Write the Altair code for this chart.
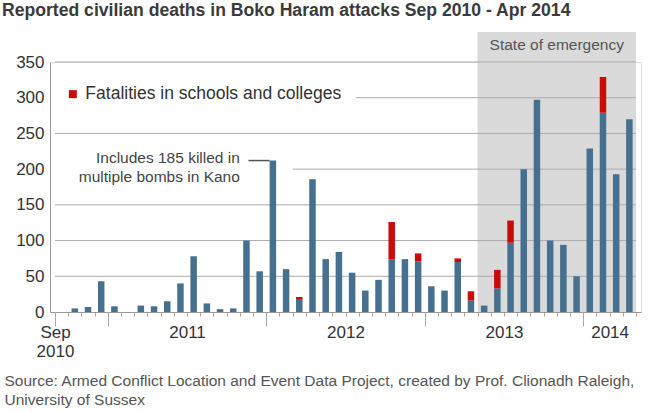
import altair as alt
import pandas as pd

# ---- data ----
months = [str(p) for p in pd.period_range("2010-09", "2014-04", freq="M")]  # 44 months
blue = [0, 5, 7, 43, 8, 0, 9, 8, 15, 40, 78, 12, 4, 5, 100, 57, 212, 60, 17, 186,
        74, 84, 55, 30, 45, 74, 74, 71, 36, 30, 70, 16, 9, 33, 97, 200, 297, 100,
        94, 50, 229, 279, 193, 270]
red = [0, 0, 0, 0, 0, 0, 0, 0, 0, 0, 0, 0, 0, 0, 0, 0, 0, 0, 4, 0,
       0, 0, 0, 0, 0, 52, 0, 11, 0, 0, 5, 13, 0, 26, 31, 0, 0, 0,
       0, 0, 0, 50, 0, 0]
y_ticks = [0, 50, 100, 150, 200, 250, 300, 350]
grid_values = [50, 100, 150, 200, 250, 300, 350]
year_bounds = [0, 4, 16, 28, 40]
label_pos = [0, 10, 22, 34, 42]
label_text = ["Sep\n2010", "2011", "2012", "2013", "2014"]
emergency = {"start": 32, "end": 44, "top": 392, "label": "State of emergency", "label_y": 374}
legend_label = "Fatalities in schools and colleges"
annotation = {"text": "Includes 185 killed in\nmultiple bombs in Kano", "x": 14.0, "y": 215,
              "line_x": 14.65, "line_x2": 16.26, "line_y": 212}
title_text = "Reported civilian deaths in Boko Haram attacks Sep 2010 - Apr 2014"
source_text = ["Source: Armed Conflict Location and Event Data Project, created by Prof. Clionadh Raleigh,",
               "University of Sussex"]

BLUE = "#46708f"
RED = "#cc0a0a"
FONT = "Liberation Sans"
N = len(months)

df = pd.DataFrame({"idx": range(N), "month": months, "blue": blue, "red": red})
df["mid"] = df["idx"] + 0.5
df["total"] = df["blue"] + df["red"]

xs = alt.Scale(domain=[0, N], nice=False, zero=False)
ys = alt.Scale(domain=[0, 350], nice=False)

W, H = 591, 250

# label expression
expr_parts = []
for p, t in zip(label_pos, label_text):
    lines = t.split("\n")
    if len(lines) > 1:
        arr = "[" + ",".join("'%s'" % l for l in lines) + "]"
    else:
        arr = "'%s'" % t
    expr_parts.append("datum.value == %s ? %s : " % (p, arr))
label_expr = "".join(expr_parts) + "''"

axis_months = alt.Axis(values=list(range(N + 1)), orient="bottom", labels=False, tickSize=4,
                       tickColor="#b3a594", domain=True, domainColor="#999999", grid=False,
                       title=None)
axis_years = alt.Axis(values=year_bounds, orient="bottom", labels=False, tickSize=14,
                      tickColor="#aaaaaa", domain=False, grid=False, title=None)
axis_labels = alt.Axis(values=label_pos, orient="bottom", ticks=False, domain=False, grid=False,
                       labelExpr=label_expr, labelFontSize=17, labelColor="#333333",
                       labelFont=FONT, labelPadding=12, labelBaseline="top", labelLineHeight=19,
                       labelAlign="center", labelFlush=False, labelOverlap=False,
                       title=source_text, titleAnchor="start", titleAlign="left",
                       titleBaseline="top", titleX=-46, titleY=61, titleFontSize=15.5,
                       titleFontWeight="normal", titleColor="#555555", titleFont=FONT,
                       titleLineHeight=19)
y_axis = alt.Axis(values=y_ticks, grid=False, ticks=False, domainColor="#999999",
                  labelFontSize=17, labelColor="#333333", labelFont=FONT, labelPadding=6,
                  title=None)


def Y(field):
    return alt.Y(field, scale=ys, axis=y_axis)


# shading
shade_df = pd.DataFrame([{"x0": emergency["start"], "x1": emergency["end"], "y0": 0,
                          "y1": emergency["top"]}])
shade = alt.Chart(shade_df).mark_rect(color="#dadada").encode(
    x=alt.X("x0:Q", scale=xs, axis=axis_months), x2="x1",
    y=Y("y0:Q"), y2="y1")

# gridlines
grid_df = pd.DataFrame({"v": grid_values, "x0": 0, "x1": N})
grid = alt.Chart(grid_df).mark_rule(color="#ababab", strokeWidth=1).encode(
    x=alt.X("x0:Q", scale=xs, axis=axis_years), x2="x1",
    y=Y("v:Q"))

# white masks behind the legend and annotation text
mask_df = pd.DataFrame([{"x0": 0, "x1": 22.8, "y0": 285, "y1": 322},
                        {"x0": 0, "x1": 18.0, "y0": 188, "y1": 238}])
masks = alt.Chart(mask_df).mark_rect(color="white").encode(
    x=alt.X("x0:Q", scale=xs, axis=None), x2="x1",
    y=Y("y0:Q"), y2="y1")

bars_blue = alt.Chart(df).mark_bar(color=BLUE, size=6.5).encode(
    x=alt.X("mid:Q", scale=xs, axis=axis_labels),
    y=Y("blue:Q"),
    tooltip=["month", "blue", "red"])

bars_red = alt.Chart(df).transform_filter("datum.red > 0").mark_bar(color=RED, size=6.5).encode(
    x=alt.X("mid:Q", scale=xs, axis=None),
    y=Y("blue:Q"), y2="total")

# legend
leg_df = pd.DataFrame([{"x": 1.35, "tx": 2.3, "y": 305, "label": legend_label}])
leg_sq = alt.Chart(leg_df).mark_square(color=RED, size=64, opacity=1).encode(
    x=alt.X("x:Q", scale=xs, axis=None), y=Y("y:Q"))
leg_tx = alt.Chart(leg_df).mark_text(align="left", baseline="middle", fontSize=17.5, font=FONT,
                                     color="#333333").encode(
    x=alt.X("tx:Q", scale=xs, axis=None), y=Y("y:Q"), text="label:N")

# annotation
ann_df = pd.DataFrame([annotation])
ann_tx = alt.Chart(ann_df).mark_text(align="right", baseline="middle", fontSize=15.5, font=FONT,
                                     color="#444444", lineBreak="\n", lineHeight=19).encode(
    x=alt.X("x:Q", scale=xs, axis=None), y=Y("y:Q"), text="text:N")
ann_line = alt.Chart(ann_df).mark_rule(color="#555555", strokeWidth=1.5).encode(
    x=alt.X("line_x:Q", scale=xs, axis=None), x2="line_x2",
    y=Y("line_y:Q"))

# emergency label
em_df = pd.DataFrame([{"x": (emergency["start"] + emergency["end"]) / 2, "y": emergency["label_y"],
                       "label": emergency["label"]}])
em_tx = alt.Chart(em_df).mark_text(align="center", baseline="middle", fontSize=15.5, font=FONT,
                                   color="#555555").encode(
    x=alt.X("x:Q", scale=xs, axis=None), y=Y("y:Q"), text="label:N")

chart = alt.layer(shade, grid, masks, bars_blue, bars_red, leg_sq, leg_tx, ann_tx, ann_line,
                  em_tx).resolve_axis(x="independent").properties(
    width=W, height=H,
    title=alt.Title(title_text, anchor="start", frame="group", dx=-48, offset=12, fontSize=17.6,
                    fontWeight="bold", color="#3a3a3a", font=FONT),
    autosize=alt.AutoSizeParams(type="none"),
    padding={"left": 50, "top": 62, "right": 19, "bottom": 100},
).configure_view(stroke=None).configure(font=FONT)

chart.save("out.html", embed_options={"renderer": "svg", "actions": False})
